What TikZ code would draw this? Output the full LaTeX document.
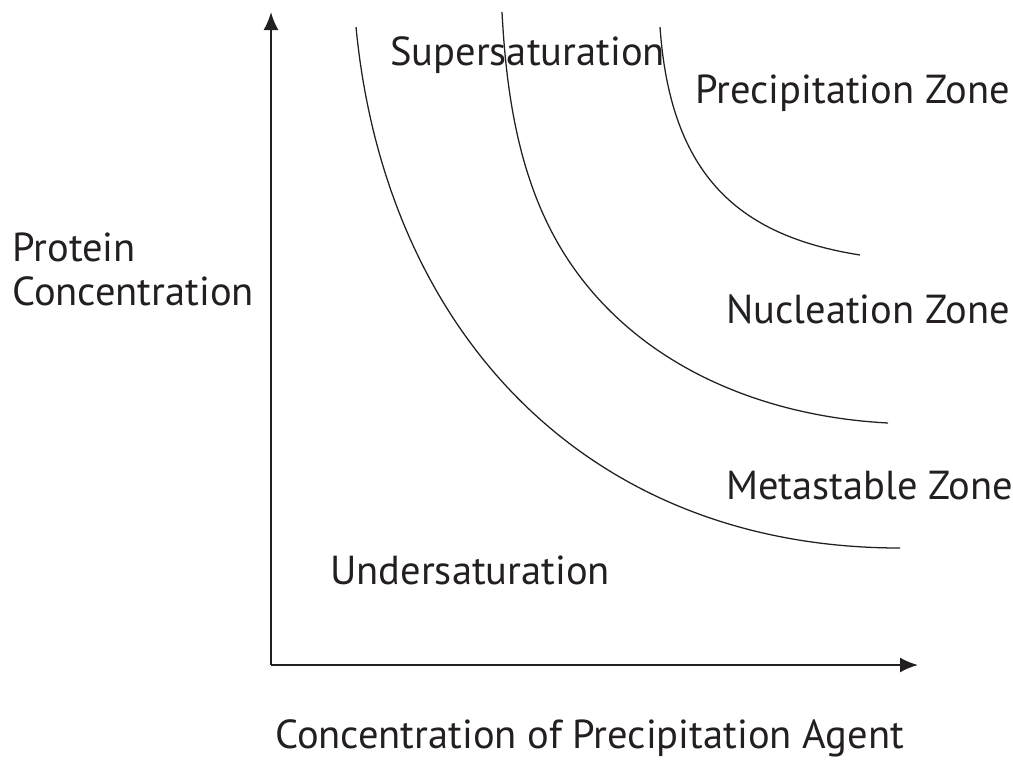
\documentclass[tikz,border=0pt]{standalone}
\usepackage{fontspec}
\setmainfont{PT Sans}
\usetikzlibrary{arrows.meta}
\definecolor{ink}{RGB}{35,31,32}

\begin{document}
\begin{tikzpicture}[x=0.025cm,y=-0.025cm,
    axis/.style={-{Latex[length=18*0.025cm,width=15*0.025cm]},line width=1.4pt,draw=ink},
    zone/.style={line width=0.9pt,draw=ink},
    label/.style={font=\fontsize{28.8}{35}\selectfont,text=ink,inner sep=0pt,anchor=base west}]
    \useasboundingbox (0,0) rectangle (1013,759);
    % Draw axes
    \coordinate (origin) at (271,665);
    \coordinate (ytip) at (271,12);
    \coordinate (xtip) at (918,665);
    \draw[axis] (origin) -- (ytip); % Protein concentration axis
    \draw[axis] (origin) -- (xtip); % Precipitation agent axis
    % Draw zone boundaries
    \draw[zone] (356,27) .. controls (385,330) and (585,548) .. (900,548); % solubility curve
    \draw[zone] (502,12) .. controls (506.7,102) and (521.3,193.3) .. (573,267)
                         .. controls (643.8,368.1) and (764.8,416.6) .. (888,423); % nucleation limit
    \draw[zone] (660,27) .. controls (670.5,177) and (740,236) .. (860,255); % precipitation limit

    % Label zones
    \node[label] (super) at (390,65) {Supersaturation};
    \node[label] (precip) at (695,103) {Precipitation Zone};
    \node[label] (nucl) at (726,323) {Nucleation Zone};
    \node[label] (meta) at (726,499) {Metastable Zone};
    \node[label] (under) at (330,584) {Undersaturation};
    % Label axes
    \node[label] (ylab) at (12,261) {Protein};
    \node[label] (ylab2) at (12,305) {Concentration};
    \node[label] (xlab) at (275,748) {Concentration of Precipitation Agent};
\end{tikzpicture}
\end{document}
